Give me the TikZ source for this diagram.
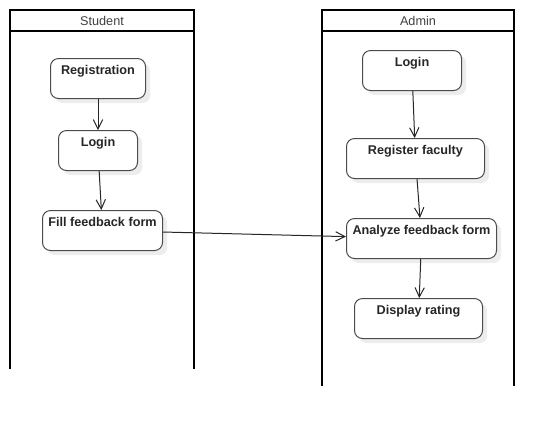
\documentclass[tikz,border=0pt]{standalone}
\usepackage{fontspec}
\setmainfont{Liberation Sans}
\usetikzlibrary{arrows.meta,shadows}
\begin{document}
\begin{tikzpicture}[x=0.75pt,y=-0.75pt,
  act/.style={draw=black!70, line width=0.75pt, rounded corners=6pt, fill=white,
    anchor=north west, inner xsep=0pt, inner ysep=0pt,
    text height=12.2pt, text depth=17.8pt,
    font=\bfseries\fontsize{9.5}{11}\selectfont, text=black!85,
    drop shadow={shadow xshift=3.5pt, shadow yshift=-3.5pt, fill=black!7, opacity=1}},
  lane/.style={line width=1.5pt, draw=black},
  head/.style={font=\fontsize{9.5}{11}\selectfont, text=black!75},
  flow/.style={draw=black!85, line width=0.75pt, -{Straight Barb[length=7pt,width=7pt]}}]
\useasboundingbox (0,0) rectangle (554,426);
% lanes
\draw[lane] (10,369) -- (10,10) -- (194,10) -- (194,369);
\draw[lane] (10,31) -- (194,31);
\node[head] (hs) at (102,21) {Student};
\draw[lane] (322,386) -- (322,10) -- (514,10) -- (514,386);
\draw[lane] (322,31) -- (514,31);
\node[head] (ha) at (418,21) {Admin};
% student activities
\node[act, minimum width=95*0.75pt] (reg) at (50,58) {Registration};
\node[act, minimum width=79*0.75pt] (slog) at (58,130) {Login};
\node[act, minimum width=120*0.75pt] (fill) at (42,210) {Fill feedback form};
% admin activities
\node[act, minimum width=99*0.75pt] (alog) at (362,50) {Login};
\node[act, minimum width=138*0.75pt] (regf) at (346,138) {Register faculty};
\node[act, minimum width=150*0.75pt] (anal) at (346,218) {Analyze feedback form};
\node[act, minimum width=128*0.75pt] (disp) at (354,298) {Display rating};
% flows
\draw[flow] (reg) -- (slog);
\draw[flow] (slog) -- (fill);
\draw[flow] (fill) -- (anal);
\draw[flow] (alog) -- (regf);
\draw[flow] (regf) -- (anal);
\draw[flow] (anal) -- (disp);
\end{tikzpicture}
\end{document}
